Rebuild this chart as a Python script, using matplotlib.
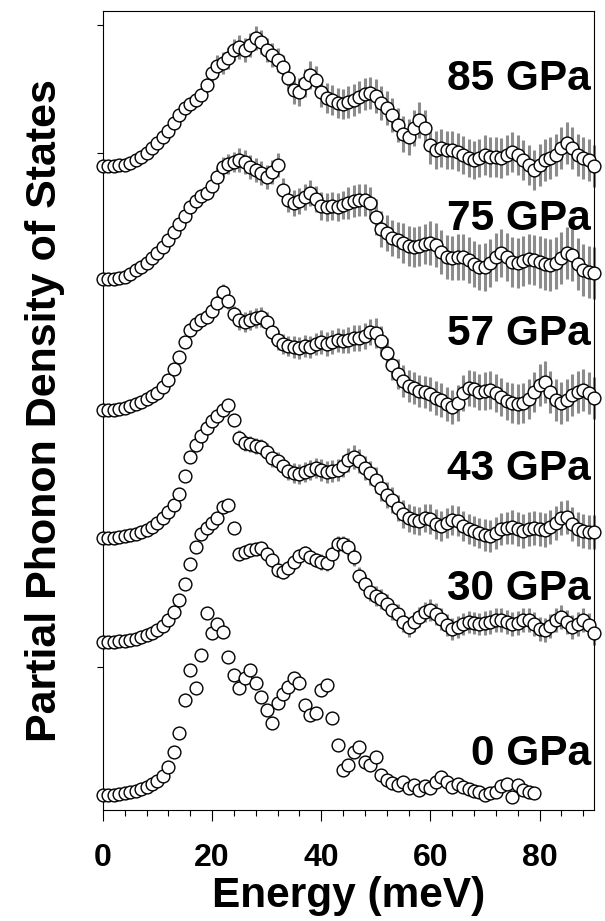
import numpy as np
import matplotlib
matplotlib.use("Agg")
from matplotlib import pyplot as plt

# partial phonon DOS (arb. units), 1 meV steps
energy = np.arange(0, 91, 1.0)
energy_0 = np.arange(0, 80, 1.0)

dos_85 = [0.00, 0.00, 0.00, 0.01, 0.01, 0.03, 0.06, 0.09, 0.13, 0.18,
          0.23, 0.29, 0.35, 0.43, 0.51, 0.58, 0.62, 0.66, 0.71, 0.81,
          0.93, 1.00, 1.03, 1.08, 1.16, 1.19, 1.16, 1.21, 1.28, 1.24,
          1.16, 1.11, 1.06, 0.99, 0.88, 0.76, 0.74, 0.83, 0.91, 0.86,
          0.74, 0.68, 0.66, 0.63, 0.62, 0.64, 0.66, 0.69, 0.72, 0.73,
          0.70, 0.63, 0.58, 0.51, 0.41, 0.32, 0.29, 0.38, 0.46, 0.38,
          0.21, 0.16, 0.18, 0.16, 0.16, 0.14, 0.11, 0.08, 0.06, 0.08,
          0.11, 0.09, 0.09, 0.08, 0.11, 0.14, 0.11, 0.06, 0.01, -0.04,
          0.01, 0.06, 0.08, 0.11, 0.18, 0.23, 0.18, 0.11, 0.08, 0.06, 0.00]
dos_75 = [0.00, 0.00, 0.00, 0.01, 0.02, 0.05, 0.09, 0.12, 0.16, 0.21,
          0.26, 0.32, 0.39, 0.47, 0.55, 0.63, 0.72, 0.78, 0.83, 0.86,
          0.93, 1.02, 1.12, 1.15, 1.17, 1.19, 1.17, 1.12, 1.09, 1.06,
          1.02, 1.07, 1.14, 0.89, 0.79, 0.76, 0.78, 0.82, 0.86, 0.80,
          0.73, 0.72, 0.73, 0.72, 0.74, 0.76, 0.78, 0.79, 0.79, 0.76,
          0.62, 0.50, 0.46, 0.41, 0.39, 0.36, 0.33, 0.32, 0.33, 0.35,
          0.36, 0.34, 0.27, 0.22, 0.21, 0.22, 0.22, 0.19, 0.15, 0.12,
          0.12, 0.16, 0.22, 0.26, 0.22, 0.17, 0.16, 0.18, 0.20, 0.19,
          0.17, 0.15, 0.14, 0.16, 0.21, 0.26, 0.24, 0.15, 0.09, 0.07, 0.06]
dos_57 = [0.00, 0.00, 0.00, 0.01, 0.02, 0.04, 0.06, 0.08, 0.11, 0.14,
          0.17, 0.23, 0.30, 0.41, 0.53, 0.68, 0.80, 0.86, 0.90, 0.93,
          0.99, 1.07, 1.18, 1.09, 0.96, 0.90, 0.88, 0.90, 0.92, 0.93,
          0.88, 0.78, 0.70, 0.66, 0.64, 0.63, 0.62, 0.64, 0.63, 0.66,
          0.68, 0.66, 0.68, 0.70, 0.69, 0.70, 0.72, 0.72, 0.74, 0.78,
          0.77, 0.69, 0.57, 0.45, 0.36, 0.29, 0.24, 0.22, 0.19, 0.18,
          0.16, 0.12, 0.10, 0.06, 0.03, 0.07, 0.17, 0.22, 0.21, 0.18,
          0.19, 0.20, 0.17, 0.13, 0.09, 0.07, 0.06, 0.07, 0.11, 0.18,
          0.25, 0.28, 0.18, 0.10, 0.07, 0.10, 0.15, 0.18, 0.20, 0.17, 0.12]
dos_43 = [0.00, 0.00, 0.00, 0.01, 0.02, 0.03, 0.04, 0.06, 0.08, 0.11,
          0.15, 0.20, 0.26, 0.33, 0.44, 0.62, 0.81, 0.93, 1.02, 1.10,
          1.17, 1.22, 1.28, 1.33, 1.18, 1.00, 0.95, 0.94, 0.92, 0.91,
          0.86, 0.80, 0.77, 0.72, 0.67, 0.65, 0.64, 0.66, 0.68, 0.70,
          0.68, 0.66, 0.67, 0.68, 0.72, 0.78, 0.81, 0.77, 0.70, 0.65,
          0.58, 0.50, 0.43, 0.38, 0.30, 0.24, 0.20, 0.18, 0.17, 0.20,
          0.19, 0.14, 0.12, 0.15, 0.18, 0.17, 0.12, 0.09, 0.07, 0.05,
          0.03, 0.02, 0.05, 0.09, 0.10, 0.11, 0.09, 0.07, 0.09, 0.10,
          0.09, 0.08, 0.11, 0.15, 0.20, 0.21, 0.14, 0.09, 0.07, 0.06, 0.06]
dos_30 = [0.00, 0.00, 0.00, 0.01, 0.01, 0.02, 0.03, 0.05, 0.07, 0.09,
          0.12, 0.16, 0.22, 0.30, 0.42, 0.58, 0.78, 0.95, 1.08, 1.14,
          1.19, 1.24, 1.35, 1.37, 1.14, 0.88, 0.90, 0.92, 0.93, 0.94,
          0.88, 0.82, 0.72, 0.70, 0.74, 0.80, 0.86, 0.89, 0.85, 0.82,
          0.80, 0.79, 0.88, 0.98, 0.98, 0.95, 0.85, 0.66, 0.58, 0.50,
          0.46, 0.43, 0.38, 0.32, 0.28, 0.20, 0.15, 0.20, 0.25, 0.30,
          0.32, 0.28, 0.23, 0.17, 0.13, 0.15, 0.18, 0.20, 0.19, 0.18,
          0.19, 0.20, 0.22, 0.22, 0.20, 0.18, 0.19, 0.22, 0.22, 0.18,
          0.13, 0.12, 0.16, 0.22, 0.25, 0.20, 0.15, 0.18, 0.22, 0.17, 0.09]
dos_0 = [0.00, 0.00, 0.00, 0.01, 0.02, 0.03, 0.04, 0.06, 0.08, 0.11,
         0.14, 0.19, 0.28, 0.43, 0.62, 0.95, 1.25, 1.07, 1.40, 1.82,
         1.62, 1.71, 1.63, 1.38, 1.20, 1.07, 1.17, 1.25, 1.12, 0.98,
         0.85, 0.72, 0.92, 1.01, 1.08, 1.17, 1.12, 0.90, 0.80, 0.82,
         1.05, 1.10, 0.77, 0.50, 0.25, 0.30, 0.43, 0.48, 0.33, 0.30,
         0.38, 0.20, 0.15, 0.12, 0.10, 0.13, 0.07, 0.10, 0.05, 0.09,
         0.07, 0.13, 0.18, 0.13, 0.08, 0.11, 0.08, 0.06, 0.04, 0.03,
         0.00, 0.02, 0.03, 0.09, 0.11, -0.02, 0.10, 0.05, 0.03, 0.02]

# error bar half-lengths, one value per 5 meV block
err_85 = [0.01, 0.02, 0.04, 0.07, 0.11, 0.12, 0.12, 0.14, 0.15, 0.16,
          0.17, 0.18, 0.19, 0.19, 0.20, 0.20, 0.21, 0.21, 0.21]
err_75 = [0.01, 0.02, 0.04, 0.07, 0.10, 0.12, 0.12, 0.13, 0.14, 0.16,
          0.18, 0.20, 0.22, 0.23, 0.24, 0.25, 0.26, 0.26, 0.26]
err_57 = [0.01, 0.02, 0.03, 0.05, 0.08, 0.10, 0.10, 0.11, 0.12, 0.13,
          0.15, 0.16, 0.17, 0.18, 0.19, 0.20, 0.21, 0.21, 0.21]
err_43 = [0.01, 0.01, 0.02, 0.04, 0.06, 0.08, 0.09, 0.10, 0.11, 0.12,
          0.13, 0.14, 0.15, 0.15, 0.16, 0.17, 0.17, 0.17, 0.17]
err_30 = [0.00, 0.01, 0.01, 0.02, 0.04, 0.06, 0.07, 0.07, 0.08, 0.09,
          0.10, 0.10, 0.11, 0.11, 0.12, 0.12, 0.12, 0.12, 0.12]

labels = ["85 GPa", "75 GPa", "57 GPa", "43 GPa", "30 GPa", "0 GPa"]
offsets = [6.29, 5.16, 3.85, 2.57, 1.53, 0.0]
label_y = [7.05, 5.65, 4.50, 3.15, 1.95, 0.30]

series = [(energy, dos_85, err_85), (energy, dos_75, err_75),
          (energy, dos_57, err_57), (energy, dos_43, err_43),
          (energy, dos_30, err_30), (energy_0, dos_0, None)]

plt.rcParams['font.family'] = ['Liberation Sans', 'DejaVu Sans']
plt.rcParams['font.weight'] = 'bold'

fig = plt.figure(figsize=(6.05, 9.21), dpi=100)
ax = fig.add_axes([0.170, 0.1205, 0.812, 0.8675])

for (x, y, err), off in zip(series, offsets):
    y = np.array(y) + off
    if err is not None:
        e = np.array(err)[(x // 5).astype(int)]
        ax.errorbar(x, y, yerr=e, fmt='none', ecolor='#8c8c8c', elinewidth=2.2,
                    capsize=0, clip_on=False, zorder=2)
    ax.plot(x, y, 'o', ms=9.2, mfc='white', mec='black', mew=1.0,
            clip_on=False, zorder=3)

for lab, ly in zip(labels, label_y):
    ax.text(89.4, ly, lab, ha='right', va='baseline', fontsize=30.5,
            fontweight='bold')

ax.set_xlim(0, 90)
ax.set_ylim(-0.15, 7.84)
ax.set_xticks([0, 20, 40, 60, 80])
ax.set_xticks(np.arange(0, 91, 4), minor=True)
ax.set_yticks([1.28, 6.42, 7.70])
ax.set_yticklabels([])
ax.tick_params(axis='x', which='major', direction='out', length=8, width=0.8,
               labelsize=23, pad=16)
ax.tick_params(axis='x', which='minor', direction='out', length=4.5, width=0.8)
ax.tick_params(axis='y', which='major', direction='out', length=4, width=0.8)
for lbl in ax.get_xticklabels():
    lbl.set_fontweight('bold')
for sp in ax.spines.values():
    sp.set_linewidth(0.8)

ax.set_xlabel('Energy (meV)', fontsize=30.5, fontweight='bold')
ax.xaxis.set_label_coords(0.5, -0.083)
ax.set_ylabel('Partial Phonon Density of States', fontsize=31,
              fontweight='bold')
ax.yaxis.set_label_coords(-0.078, 0.5)

fig.savefig('out.png', dpi=100)
